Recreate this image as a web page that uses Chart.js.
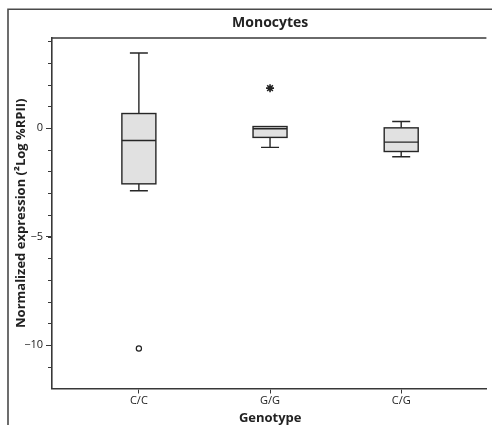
<!DOCTYPE html>
<html>
<head>
<meta charset="utf-8">
<script src="https://cdn.jsdelivr.net/npm/chart.js@4/dist/chart.umd.min.js"></script>
<style>
  html, body { margin: 0; padding: 0; background: #fff; overflow: hidden; }
  canvas { display: block; }
</style>
</head>
<body>
<canvas id="chart" width="492" height="425"></canvas>
<script>
// Genotype groups and box-plot summaries (2Log %RPII)
const genotypes   = ['C/C', 'G/G', 'C/G'];
const whiskerLow  = [-2.89, -0.89, -1.32];
const quartile1   = [-2.57, -0.43, -1.08];
const medians     = [-0.57, -0.03, -0.65];
const quartile3   = [0.67, 0.07, 0.01];
const whiskerHigh = [3.46, 0.07, 0.30];

// Points outside the whiskers: group index (1-based) and value
const outlierGroups  = [1];
const outlierValues  = [-10.16];
const extremeGroups  = [2];
const extremeValues  = [1.84];

// Axis ticks
const yTickValues  = [-10, -5, 0];
const yTickLabels  = ['\u221210', '\u22125', '0'];
const yMinorTicks  = [-11, -10, -9, -8, -7, -6, -5, -4, -3, -2, -1, 0, 1, 2, 3, 4];

const chartTitle = 'Monocytes';
const yTitle = 'Normalized expression (\u00B2Log %RPII)';
const xTitle = 'Genotype';

const FONT = '"Open Sans", "Noto Sans", sans-serif';
const INK = '#262626';
const AXIS = '#383838';
const TEXT = '#222';

const boxPlotPlugin = {
  id: 'boxPlot',
  beforeDatasetsDraw(chart) {
    const { ctx, scales: { x, y } } = chart;
    const halfBox = 17, halfCap = 9;
    ctx.save();
    ctx.strokeStyle = INK;
    ctx.lineWidth = 1.4;
    genotypes.forEach((g, i) => {
      const cx = x.getPixelForValue(i + 1);
      const pHi = y.getPixelForValue(whiskerHigh[i]);
      const pQ3 = y.getPixelForValue(quartile3[i]);
      const pMed = y.getPixelForValue(medians[i]);
      const pQ1 = y.getPixelForValue(quartile1[i]);
      const pLo = y.getPixelForValue(whiskerLow[i]);
      // whiskers and caps
      ctx.beginPath();
      if (whiskerHigh[i] > quartile3[i]) {
        ctx.moveTo(cx, pQ3); ctx.lineTo(cx, pHi);
        ctx.moveTo(cx - halfCap, pHi); ctx.lineTo(cx + halfCap, pHi);
      }
      if (whiskerLow[i] < quartile1[i]) {
        ctx.moveTo(cx, pQ1); ctx.lineTo(cx, pLo);
        ctx.moveTo(cx - halfCap, pLo); ctx.lineTo(cx + halfCap, pLo);
      }
      ctx.stroke();
      // box
      ctx.fillStyle = '#e1e1e1';
      ctx.fillRect(cx - halfBox, pQ3, halfBox * 2, pQ1 - pQ3);
      ctx.strokeRect(cx - halfBox, pQ3, halfBox * 2, pQ1 - pQ3);
      // median
      ctx.beginPath();
      ctx.moveTo(cx - halfBox, pMed); ctx.lineTo(cx + halfBox, pMed);
      ctx.stroke();
    });
    ctx.restore();
  }
};

const framePlugin = {
  id: 'frame',
  afterDraw(chart) {
    const { ctx, chartArea: a, scales: { y } } = chart;
    ctx.save();
    // outer frame
    ctx.strokeStyle = '#4a4a4a';
    ctx.lineWidth = 1.6;
    ctx.beginPath();
    ctx.moveTo(8, 425); ctx.lineTo(8, 9.3); ctx.lineTo(492, 9.3);
    ctx.stroke();
    // plot top edge
    ctx.strokeStyle = AXIS;
    ctx.beginPath();
    ctx.moveTo(a.left, a.top); ctx.lineTo(a.right, a.top);
    ctx.stroke();
    // y minor ticks
    ctx.lineWidth = 1;
    ctx.beginPath();
    yMinorTicks.forEach(v => {
      const py = Math.round(y.getPixelForValue(v)) + 0.5;
      ctx.moveTo(a.left - 4, py); ctx.lineTo(a.left, py);
    });
    ctx.stroke();
    // titles
    const midX = (a.left + a.right) / 2;
    ctx.fillStyle = TEXT;
    ctx.textAlign = 'center';
    ctx.textBaseline = 'alphabetic';
    ctx.font = 'bold 14px ' + FONT;
    ctx.fillText(chartTitle, midX + 1, 27);
    ctx.font = 'bold 13px ' + FONT;
    ctx.fillText(xTitle, midX + 1, 422);
    ctx.translate(25, (a.top + a.bottom) / 2);
    ctx.rotate(-Math.PI / 2);
    ctx.font = 'bold 13px ' + FONT;
    ctx.fillText(yTitle, 0, 0);
    ctx.restore();
  }
};

new Chart(document.getElementById('chart'), {
  type: 'scatter',
  data: {
    datasets: [
      {
        label: 'outliers',
        data: outlierGroups.map((g, i) => ({ x: g, y: outlierValues[i] })),
        pointStyle: 'circle',
        radius: 2.6,
        borderWidth: 1.2,
        borderColor: '#222',
        backgroundColor: '#fff'
      },
      {
        label: 'extremes',
        data: extremeGroups.map((g, i) => ({ x: g, y: extremeValues[i] })),
        pointStyle: 'star',
        radius: 4,
        borderWidth: 1.6,
        borderColor: '#222',
        backgroundColor: '#222'
      }
    ]
  },
  options: {
    responsive: false,
    animation: false,
    layout: { padding: { top: 38, left: 0, right: 0, bottom: 0 } },
    plugins: { legend: { display: false }, tooltip: { enabled: false }, title: { display: false } },
    scales: {
      x: {
        type: 'linear',
        min: 0.3376,
        max: 3.6496,
        afterBuildTicks: s => { s.ticks = genotypes.map((g, i) => ({ value: i + 1 })); },
        afterFit: s => { s.height = 36.5; s.paddingLeft = 0; s.paddingRight = 0; },
        ticks: {
          callback: v => genotypes[v - 1],
          autoSkip: false,
          maxRotation: 0,
          padding: 1,
          color: TEXT,
          font: { family: FONT, size: 11 }
        },
        grid: { drawOnChartArea: false, drawTicks: true, tickLength: 5, color: AXIS, tickColor: AXIS, lineWidth: 1 },
        border: { display: true, color: AXIS, width: 1.6 }
      },
      y: {
        type: 'linear',
        min: -12,
        max: 4.15,
        afterBuildTicks: s => { s.ticks = yTickValues.map(v => ({ value: v })); },
        afterFit: s => { s.width = 52; s.paddingTop = 0; s.paddingBottom = 0; },
        ticks: {
          callback: v => yTickLabels[yTickValues.indexOf(v)],
          padding: 3,
          color: TEXT,
          font: { family: FONT, size: 11 }
        },
        grid: { drawOnChartArea: false, drawTicks: true, tickLength: 6, color: AXIS, tickColor: AXIS, lineWidth: 1 },
        border: { display: true, color: AXIS, width: 1.6 }
      }
    }
  },
  plugins: [boxPlotPlugin, framePlugin]
});
</script>
</body>
</html>
